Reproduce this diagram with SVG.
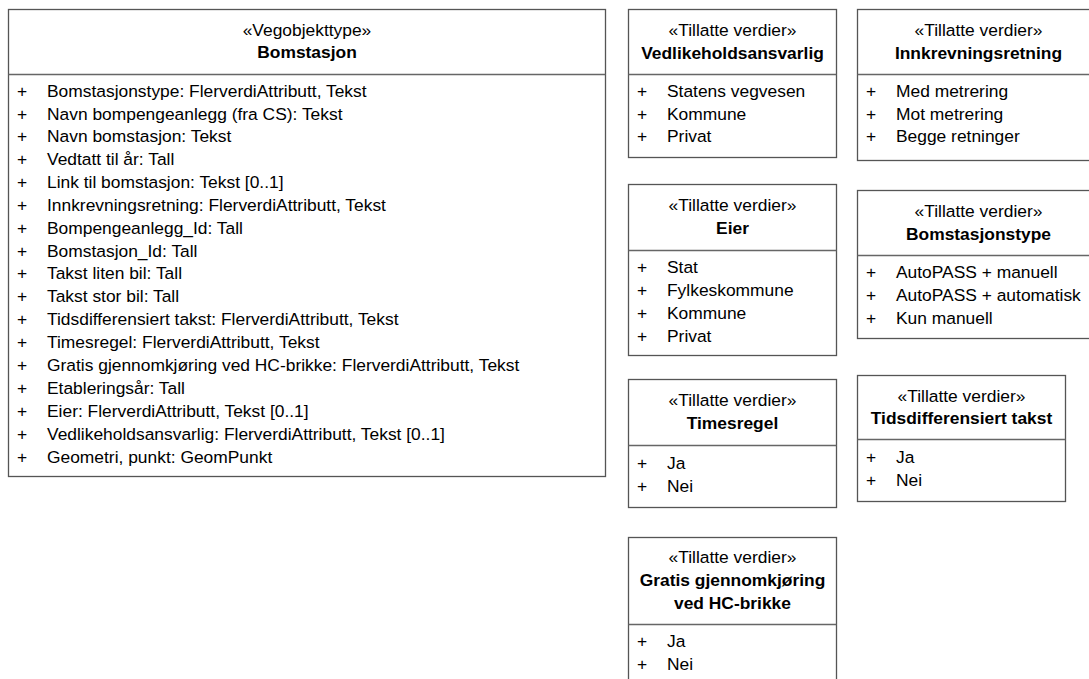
<svg xmlns="http://www.w3.org/2000/svg" width="1089" height="679" viewBox="0 0 1089 679">
<style>
text{font-family:"Liberation Sans",Arial,sans-serif;font-size:17.4px;fill:#000}
.b{font-weight:bold}
.c{text-anchor:middle}
.box{fill:#fff;stroke:#555;stroke-width:1.3}
.div{stroke:#666;stroke-width:1.3}
</style>
<rect width="1089" height="679" fill="#fff"/>
<g id="bomstasjon">
<rect class="box" x="8.5" y="9.5" width="597" height="467"/>
<line class="div" x1="8.5" y1="74.5" x2="605.5" y2="74.5"/>
<text class="c" x="307" y="36">«Vegobjekttype»</text>
<text class="c b" x="307" y="58">Bomstasjon</text>
<g>
<text x="17" y="97">+</text><text x="47" y="97">Bomstasjonstype: FlerverdiAttributt, Tekst</text>
<text x="17" y="120">+</text><text x="47" y="120">Navn bompengeanlegg (fra CS): Tekst</text>
<text x="17" y="142">+</text><text x="47" y="142">Navn bomstasjon: Tekst</text>
<text x="17" y="165">+</text><text x="47" y="165">Vedtatt til år: Tall</text>
<text x="17" y="188">+</text><text x="47" y="188">Link til bomstasjon: Tekst [0..1]</text>
<text x="17" y="211">+</text><text x="47" y="211">Innkrevningsretning: FlerverdiAttributt, Tekst</text>
<text x="17" y="234">+</text><text x="47" y="234">Bompengeanlegg_Id: Tall</text>
<text x="17" y="257">+</text><text x="47" y="257">Bomstasjon_Id: Tall</text>
<text x="17" y="279">+</text><text x="47" y="279">Takst liten bil: Tall</text>
<text x="17" y="302">+</text><text x="47" y="302">Takst stor bil: Tall</text>
<text x="17" y="325">+</text><text x="47" y="325">Tidsdifferensiert takst: FlerverdiAttributt, Tekst</text>
<text x="17" y="348">+</text><text x="47" y="348">Timesregel: FlerverdiAttributt, Tekst</text>
<text x="17" y="371">+</text><text x="47" y="371">Gratis gjennomkjøring ved HC-brikke: FlerverdiAttributt, Tekst</text>
<text x="17" y="394">+</text><text x="47" y="394">Etableringsår: Tall</text>
<text x="17" y="417">+</text><text x="47" y="417">Eier: FlerverdiAttributt, Tekst [0..1]</text>
<text x="17" y="440">+</text><text x="47" y="440">Vedlikeholdsansvarlig: FlerverdiAttributt, Tekst [0..1]</text>
<text x="17" y="463">+</text><text x="47" y="463">Geometri, punkt: GeomPunkt</text>
</g>
</g>
<g id="vedlikeholdsansvarlig">
<rect class="box" x="628.5" y="9.5" width="208" height="148"/>
<line class="div" x1="628.5" y1="74.5" x2="836.5" y2="74.5"/>
<text class="c" x="732.5" y="36">«Tillatte verdier»</text>
<text class="c b" x="732.5" y="59">Vedlikeholdsansvarlig</text>
<text x="637" y="97">+</text><text x="667" y="97">Statens vegvesen</text>
<text x="637" y="120">+</text><text x="667" y="120">Kommune</text>
<text x="637" y="142">+</text><text x="667" y="142">Privat</text>
</g>
<g id="innkrevningsretning">
<rect class="box" x="857.5" y="9.5" width="242" height="151"/>
<line class="div" x1="857.5" y1="74.5" x2="1099.5" y2="74.5"/>
<text class="c" x="978.5" y="36">«Tillatte verdier»</text>
<text class="c b" x="978.5" y="59">Innkrevningsretning</text>
<text x="866" y="97">+</text><text x="896" y="97">Med metrering</text>
<text x="866" y="120">+</text><text x="896" y="120">Mot metrering</text>
<text x="866" y="142">+</text><text x="896" y="142">Begge retninger</text>
</g>
<g id="eier">
<rect class="box" x="628.5" y="184.5" width="208" height="171"/>
<line class="div" x1="628.5" y1="250.5" x2="836.5" y2="250.5"/>
<text class="c" x="732.5" y="211">«Tillatte verdier»</text>
<text class="c b" x="732.5" y="234">Eier</text>
<text x="637" y="273">+</text><text x="667" y="273">Stat</text>
<text x="637" y="296">+</text><text x="667" y="296">Fylkeskommune</text>
<text x="637" y="319">+</text><text x="667" y="319">Kommune</text>
<text x="637" y="342">+</text><text x="667" y="342">Privat</text>
</g>
<g id="bomstasjonstype">
<rect class="box" x="857.5" y="190.5" width="242" height="148"/>
<line class="div" x1="857.5" y1="255.5" x2="1099.5" y2="255.5"/>
<text class="c" x="978.5" y="217">«Tillatte verdier»</text>
<text class="c b" x="978.5" y="240">Bomstasjonstype</text>
<text x="866" y="278">+</text><text x="896" y="278">AutoPASS + manuell</text>
<text x="866" y="301">+</text><text x="896" y="301">AutoPASS + automatisk</text>
<text x="866" y="324">+</text><text x="896" y="324">Kun manuell</text>
</g>
<g id="timesregel">
<rect class="box" x="628.5" y="379.5" width="208" height="128"/>
<line class="div" x1="628.5" y1="445.5" x2="836.5" y2="445.5"/>
<text class="c" x="732.5" y="406">«Tillatte verdier»</text>
<text class="c b" x="732.5" y="429">Timesregel</text>
<text x="637" y="469">+</text><text x="667" y="469">Ja</text>
<text x="637" y="492">+</text><text x="667" y="492">Nei</text>
</g>
<g id="tidsdifferensiert">
<rect class="box" x="857.5" y="375.5" width="208" height="126"/>
<line class="div" x1="857.5" y1="439.5" x2="1065.5" y2="439.5"/>
<text class="c" x="961.5" y="402">«Tillatte verdier»</text>
<text class="c b" x="961.5" y="424">Tidsdifferensiert takst</text>
<text x="866" y="463">+</text><text x="896" y="463">Ja</text>
<text x="866" y="486">+</text><text x="896" y="486">Nei</text>
</g>
<g id="gratis">
<rect class="box" x="628.5" y="537.5" width="208" height="160"/>
<line class="div" x1="628.5" y1="624.5" x2="836.5" y2="624.5"/>
<text class="c" x="732.5" y="563">«Tillatte verdier»</text>
<text class="c b" x="732.5" y="586">Gratis gjennomkjøring</text>
<text class="c b" x="732.5" y="609">ved HC-brikke</text>
<text x="637" y="647">+</text><text x="667" y="647">Ja</text>
<text x="637" y="670">+</text><text x="667" y="670">Nei</text>
</g>
<g id="connectors"/>
</svg>
